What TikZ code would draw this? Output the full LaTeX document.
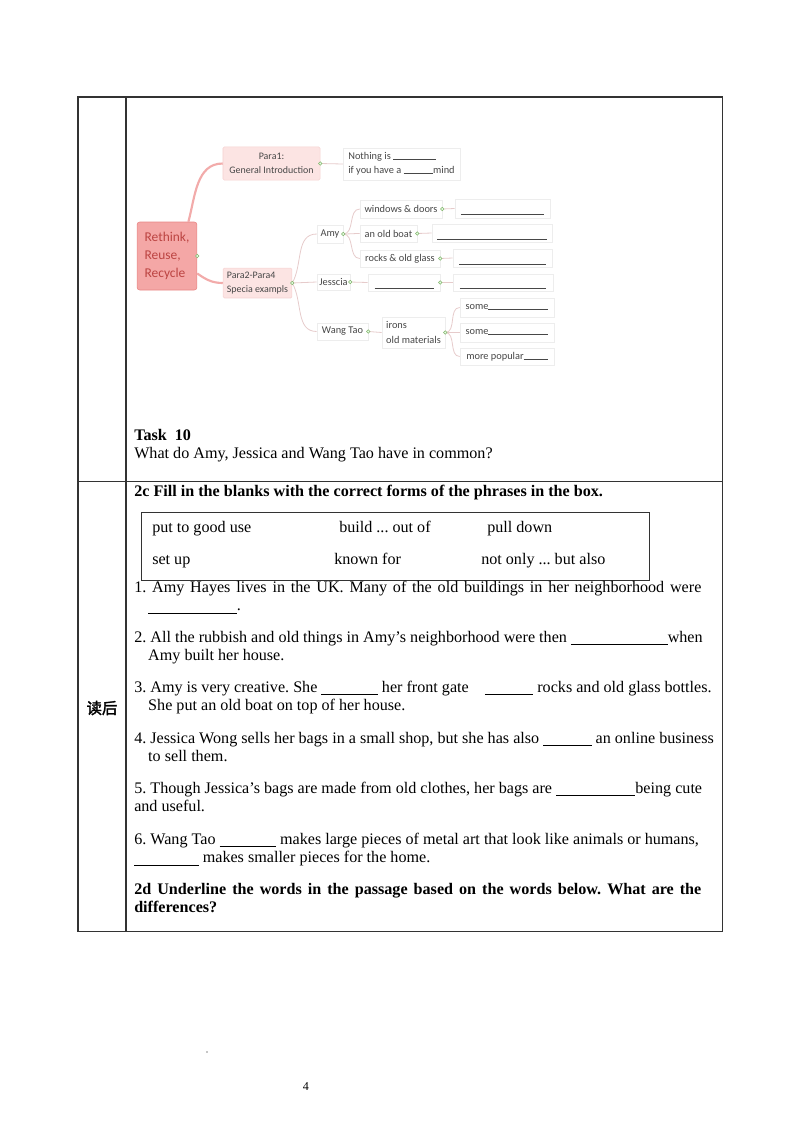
\documentclass[tikz,border=0pt]{standalone}
\usepackage{fontspec}
\setmainfont{Liberation Serif}
\newfontfamily\mapfont{Carlito}
\newfontfamily\cjkfont{Noto Sans CJK SC}[FakeBold=2]
\frenchspacing
\definecolor{rootfill}{HTML}{F4A7A6}
\definecolor{rootline}{HTML}{E88584}
\definecolor{roottext}{HTML}{BC4442}
\definecolor{parafill}{HTML}{FCE4E3}
\definecolor{paraline}{HTML}{F5D2D1}
\definecolor{conbig}{HTML}{F2ABAA}
\definecolor{consmall}{HTML}{E6CBCB}
\definecolor{maptext}{HTML}{474747}
\definecolor{dotline}{HTML}{83B46C}
\newcommand\blank[1]{\rule[-1.8pt]{#1}{0.5pt}}
\newcommand\mapblank[1]{\strut\raisebox{-2.8pt}{\rule{#1}{0.5pt}}}
\newcommand\itemlines[1]{\parbox[t]{440pt}{\raggedright#1}}
\newcommand\fullline[1]{\makebox[422pt][s]{#1}}
\tikzset{
  rootbox/.style={draw=rootline, fill=rootfill, rounded corners=2pt,
    minimum width=44.6pt, minimum height=50.6pt, inner sep=0pt, align=left,
    text=roottext, font=\mapfont\fontsize{10}{13.5}\selectfont},
  parabox/.style={draw=paraline, fill=parafill, rounded corners=1pt, inner sep=0pt,
    text=maptext, font=\mapfont\fontsize{7.4}{10.2}\selectfont},
  leafbox/.style={draw=black!7, fill=white, inner sep=0pt,
    text=maptext, font=\mapfont\fontsize{7.7}{10.5}\selectfont},
  bigcon/.style={draw=conbig, line width=1.6pt},
  smallcon/.style={draw=consmall, line width=0.6pt},
  dot/.style={circle, draw=dotline, fill=green!10, line width=0.4pt,
    inner sep=0pt, minimum size=2.6pt},
  tbl/.style={draw=black!80, line width=0.75pt},
  body/.style={anchor=base west, inner sep=0pt,
    font=\fontsize{12}{14.1}\selectfont},
  bold/.style={body, font=\bfseries\fontsize{12}{14.1}\selectfont},
}

\begin{document}
\begin{tikzpicture}[x=0.7441pt, y=-0.7441pt]
  \useasboundingbox (0,0) rectangle (800,1132);

  % table
  \draw[tbl] (78,97) rectangle (722,931);
  \draw[tbl] (126,97) -- (126,931);
  \draw[tbl] (78,481) -- (722,481);

  % mind map
  \node[rootbox] (root) at (167,256) {Rethink,\\Reuse,\\Recycle};
  \node[parabox, minimum width=72.2pt, minimum height=24.6pt, align=center]
    (para1) at (271.5,163.5) {Para1:\\General Introduction};
  \node[parabox, minimum width=51.3pt, minimum height=22.3pt, align=left]
    (para2) at (257.5,283) {Para2-Para4\\Specia exampls};
  \node[leafbox, minimum width=87pt, minimum height=23.8pt, align=left]
    (nothing) at (401.5,164) {Nothing is \rule{32pt}{0.5pt}\\if you have a \rule{22pt}{0.5pt}mind};

  \node[leafbox, minimum width=19.3pt, minimum height=13.4pt] (amy) at (330,234) {Amy};
  \node[leafbox, minimum width=61pt, minimum height=13.4pt] (windows) at (401,209) {windows \& doors};
  \node[leafbox, minimum width=70.7pt, minimum height=14.1pt] (blank1) at (502.5,208.5) {\mapblank{61.8pt}};
  \node[leafbox, minimum width=42.4pt, minimum height=12.6pt] (boat) at (388.5,233.5) {an old boat};
  \node[leafbox, minimum width=89.3pt, minimum height=13.4pt] (blank2) at (492,233) {\mapblank{81.8pt}};
  \node[leafbox, minimum width=59.5pt, minimum height=12.6pt] (rocks) at (400,258.5) {rocks \& old glass};
  \node[leafbox, minimum width=73.7pt, minimum height=13.4pt] (blank3) at (502.5,258) {\mapblank{64.7pt}};

  \node[leafbox, minimum width=24.6pt, minimum height=11.9pt] (jes) at (333.5,282) {Jesscia};
  \node[leafbox, minimum width=53.6pt, minimum height=12.6pt] (jblank1) at (404,282.5) {\mapblank{43.9pt}};
  \node[leafbox, minimum width=74.4pt, minimum height=12.6pt] (jblank2) at (503,282.5) {\mapblank{64.7pt}};

  \node[leafbox, minimum width=38pt, minimum height=12.6pt] (wang) at (342.5,331.5) {Wang Tao};
  \node[leafbox, minimum width=46.9pt, minimum height=23.1pt, align=left]
    (irons) at (413.5,332.5) {irons\\old materials};
  \node[leafbox, minimum width=70pt, minimum height=14.1pt] (some1) at (507,307.5) {some\rule{44.6pt}{0.5pt}};
  \node[leafbox, minimum width=70pt, minimum height=14.1pt] (some2) at (507,332.5) {some\rule{44.6pt}{0.5pt}};
  \node[leafbox, minimum width=70pt, minimum height=12.6pt] (popular) at (507,356.5) {more popular\rule{17.9pt}{0.5pt}};

  % connectors
  \draw[bigcon] (root.58) to[out=75,in=180] (para1.west);
  \draw[bigcon] (root.-30) to[out=-35,in=180] (para2.west);
  \draw[smallcon] (para1.east) -- (nothing.west);
  \draw[smallcon] (para2.east) to[out=60,in=180] (amy.west);
  \draw[smallcon] (para2.east) -- (jes.west);
  \draw[smallcon] (para2.east) to[out=-60,in=180] (wang.west);
  \foreach \c in {windows,boat,rocks}
    \draw[smallcon] (amy.east) to[out=0,in=180] (\c.west);
  \draw[smallcon] (windows.east) -- (blank1.west);
  \draw[smallcon] (boat.east) -- (blank2.west);
  \draw[smallcon] (rocks.east) -- (blank3.west);
  \draw[smallcon] (jes.east) -- (jblank1.west);
  \draw[smallcon] (jblank1.east) -- (jblank2.west);
  \draw[smallcon] (wang.east) -- (irons.west);
  \foreach \c in {some1,some2,popular}
    \draw[smallcon] (irons.east) to[out=0,in=180] (\c.west);
  \foreach \n in {root,para1,para2,amy,windows,boat,rocks,jes,jblank1,wang,irons}
    \node[dot] at (\n.east) {};

  % task 10
  \node[bold] (task) at (134,440) {Task\ \ 10};
  \node[body] (common) at (134,458) {What do Amy, Jessica and Wang Tao have in common?};

  % 2c
  \node[font=\cjkfont\fontsize{11.5}{14}\selectfont] (duhou) at (102,708) {读后};
  \node[bold] (twoc) at (134,496)
    {2c Fill in the blanks with the correct forms of the phrases in the box.};
  \draw[tbl, line width=0.6pt] (141,512) rectangle (649,580);
  \node[body] (p1) at (152,532) {put to good use};
  \node[body] (p2) at (339,532) {build ... out of};
  \node[body] (p3) at (487,532) {pull down};
  \node[body] (p4) at (152,564) {set up};
  \node[body] (p5) at (334,564) {known for};
  \node[body] (p6) at (481,564) {not only ... but also};

  \node[body] (q1) at (134,592) {\itemlines{\fullline{1. Amy Hayes lives in the UK. Many of the old buildings in her neighborhood were}\\
    \hspace*{10.4pt}\blank{66pt}.}};
  \node[body] (q2) at (134,642) {\itemlines{2. All the rubbish and old things in Amy's neighborhood were then \blank{72pt}when\\
    \hspace*{10.4pt}Amy built her house.}};
  \node[body] (q3) at (134,692) {\itemlines{3. Amy is very creative. She \blank{42pt} her front gate\hspace{9pt} \blank{36pt} rocks and old glass bottles.\\
    \hspace*{10.4pt}She put an old boat on top of her house.}};
  \node[body] (q4) at (134,743) {\itemlines{4. Jessica Wong sells her bags in a small shop, but she has also \blank{36pt} an online business\\
    \hspace*{10.4pt}to sell them.}};
  \node[body] (q5) at (134,793) {\itemlines{5. Though Jessica's bags are made from old clothes, her bags are \blank{59pt}being cute\\
    and useful.}};
  \node[body] (q6) at (134,844) {\itemlines{6. Wang Tao \blank{42pt} makes large pieces of metal art that look like animals or humans,\\
    \blank{48pt} makes smaller pieces for the home.}};
  \node[bold] (twod) at (134,894)
    {\itemlines{\fullline{2d Underline the words in the passage based on the words below. What are the}\\differences?}};

  % footer
  \fill[black!45] (207,1052) circle (0.8);
  \node[font=\fontsize{9}{11}\selectfont] (page) at (306,1087) {4};
\end{tikzpicture}
\end{document}
